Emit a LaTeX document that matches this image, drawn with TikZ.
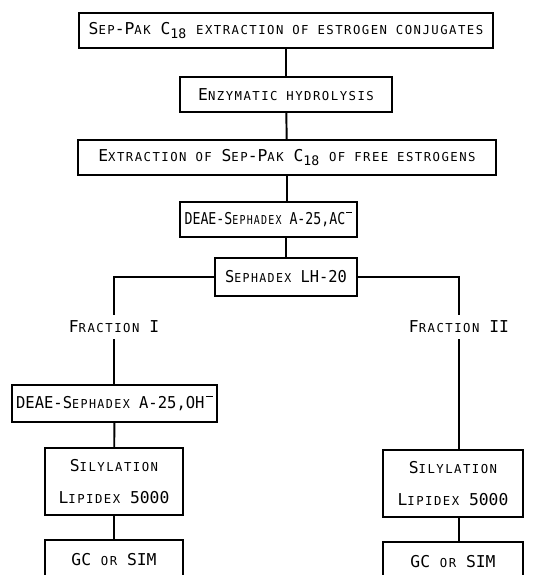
\documentclass[tikz,border=0pt]{standalone}
\usepackage{fontspec}
\setmainfont{DejaVu Sans Mono}
\newfontfamily\smcfont[LetterSpace=12]{DejaVu Sans Mono}
\newcommand\smc[1]{{\smcfont\fontsize{7}{8}\selectfont\MakeUppercase{#1}}}
\newcommand\subsc[1]{\raisebox{-0.55ex}{\fontsize{7.5}{8}\selectfont #1}}
\newcommand\minsup{\hspace{0.8pt}\rule[0.7em]{4.2pt}{0.8pt}}
\usetikzlibrary{positioning}

\begin{document}
\begin{tikzpicture}[x=0.02cm, y=-0.02cm,
  every node/.style={font=\fontsize{9.3}{11}\selectfont},
  stage/.style={draw, line width=1.1pt, inner sep=0pt, minimum height=0.7cm, align=center},
  tall/.style={stage, minimum height=1.34cm},
  link/.style={line width=1.1pt}
]
\useasboundingbox (0,0) rectangle (548,575);
\clip (0,0) rectangle (548,575);
% main column
\node[stage, minimum width=8.28cm] (sep) at (286,30.5)
  {S\smc{ep}-P\smc{ak} C\subsc{18} \smc{extraction of estrogen conjugates}};
\node[stage, minimum width=4.24cm] (enz) at (286,94.5) {E\smc{nzymatic hydrolysis}};
\node[stage, minimum width=8.36cm] (ext) at (287,157.5)
  {E\smc{xtraction of} S\smc{ep}-P\smc{ak} C\subsc{18} \smc{of free estrogens}};
\node[stage, minimum width=3.54cm] (deac) at (268.5,219.5)
  {\scalebox{0.81}[1]{DEAE-S\smc{ephadex} A-25,AC\minsup}};
\node[stage, minimum width=2.84cm, minimum height=0.76cm] (lh) at (286,277)
  {\scalebox{0.94}[1]{S\smc{ephadex} LH-20}};
% fractions
\node (frA) at (114,327) {F\smc{raction} I};
\node (frB) at (459,327) {F\smc{raction} II};
\node[stage, minimum width=4.1cm, minimum height=0.74cm] (deoh) at (114.5,403.5)
  {\scalebox{0.95}[1]{DEAE-S\smc{ephadex} A-25,OH\minsup}};
\node[tall, minimum width=2.76cm] (silA) at (114,481.5) {S\smc{ilylation}\\[7pt]L\smc{ipidex} 5000};
\node[stage, minimum width=2.76cm, minimum height=0.8cm] (gcA) at (114,560) {GC \smc{or} SIM};
\node[tall, minimum width=2.8cm] (silB) at (453,483.5) {S\smc{ilylation}\\[7pt]L\smc{ipidex} 5000};
\node[stage, minimum width=2.8cm, minimum height=0.8cm] (gcB) at (453,562) {GC \smc{or} SIM};

\draw[link] (sep) -- (enz);
\draw[link] (enz) -- (ext);
\draw[link] (ext.south) -- (ext.south |- deac.north);
\draw[link] (deac.south -| lh.north) -- (lh.north);
\draw[link] (lh.west) -| (frA.north);
\draw[link] (lh.east) -| (frB.north);
\draw[link] (frA.south) -- (frA.south |- deoh.north);
\draw[link] (deoh) -- (silA);
\draw[link] (silA) -- (gcA);
\draw[link] (frB.south) -- (frB.south |- silB.north);
\draw[link] (silB.south -| frB.south) -- (frB.south |- gcB.north);
\end{tikzpicture}
\end{document}
